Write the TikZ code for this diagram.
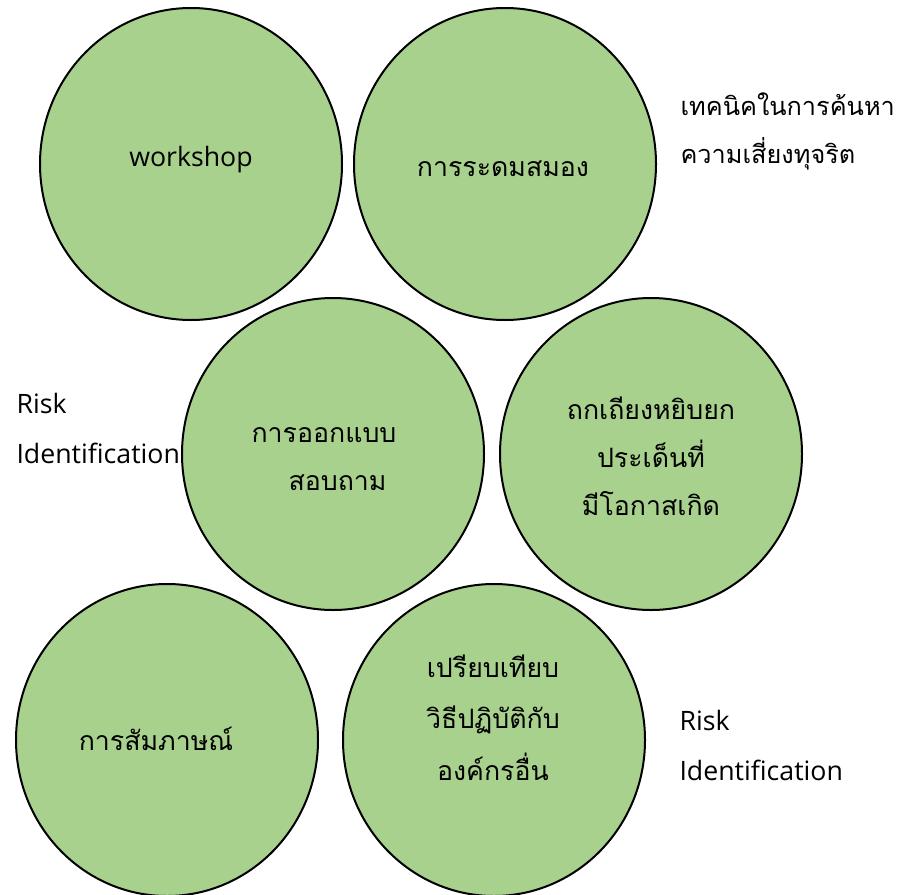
\documentclass[tikz,border=0pt]{standalone}
\usepackage{fontspec}
\setmainfont{Open Sans}
\newfontfamily\thaifont[Script=Thai]{Loma}
\usetikzlibrary{shapes.geometric}

\definecolor{leafgreen}{RGB}{169,209,142}

\begin{document}
\begin{tikzpicture}[x=1pt, y=-1pt,
    idea/.style={ellipse, draw=black, line width=2pt, fill=leafgreen,
        minimum width=302pt, minimum height=312pt, inner sep=0pt},
    thai/.style={font=\thaifont\fontsize{26.7}{48}\selectfont, align=center, anchor=base},
    latin/.style={font=\fontsize{26.7}{50}\selectfont, align=left, anchor=base west}]
    \useasboundingbox (0, 0) rectangle (904, 894);

    \node[idea] (c1) at (191, 164) {};
    \node[idea] (c2) at (505, 164) {};
    \node[idea] (c3) at (333, 454) {};
    \node[idea] (c4) at (651, 454) {};
    \node[idea] (c5) at (167, 740) {};
    \node[idea] (c6) at (494, 740) {};

    % multi-line nodes: base = last line
    \node[latin, anchor=base] (t1) at (191, 166) {workshop};
    \node[thai] (t2) at (503, 176) {การระดมสมอง};
    \node[thai, align=left, anchor=base west] (t3) at (248, 490) {การออกแบบ\\\hspace*{37pt}สอบถาม};
    \node[thai] (t4) at (651, 515) {ถกเถียงหยิบยก\\ประเด็นที่\\มีโอกาสเกิด};
    \node[thai] (t5) at (156, 750) {การสัมภาษณ์};
    \node[thai, font=\thaifont\fontsize{26.7}{51.5}\selectfont] (t6) at (493, 780) {เปรียบเทียบ\\วิธีปฏิบัติกับ\\องค์กรอื่น};

    \node[thai, font=\thaifont\fontsize{25.3}{48}\selectfont, align=left, anchor=base west] (l1) at (677, 163) {เทคนิคในการค้นหา\\ความเสี่ยงทุจริต};
    \node[latin] (l2) at (13, 463) {Risk\\Identification};
    \node[latin] (l3) at (676, 780) {Risk\\Identification};
\end{tikzpicture}
\end{document}
